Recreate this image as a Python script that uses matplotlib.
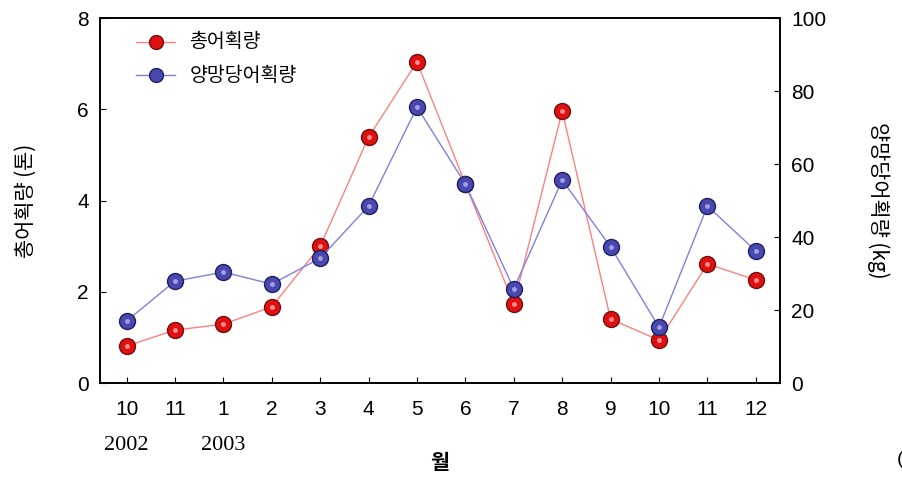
import numpy as np
import matplotlib.pyplot as plt

plt.rcParams['font.family'] = ['Liberation Sans', 'Noto Sans CJK KR', 'DejaVu Sans']

months = ['10', '11', '1', '2', '3', '4', '5', '6', '7', '8', '9', '10', '11', '12']
total_catch = [0.81, 1.16, 1.29, 1.67, 3.0, 5.39, 7.04, 4.36, 1.73, 5.96, 1.40, 0.94, 2.61, 2.26]
cpue = [17.0, 27.9, 30.4, 27.1, 34.2, 48.5, 75.6, 54.5, 25.8, 55.6, 37.3, 15.3, 48.5, 36.2]
years = ['2002', '2003']
year_pos = [0, 2]

x = np.arange(len(months))

fig = plt.figure(figsize=(9.03, 4.78), dpi=100)
ax = fig.add_axes([0.1107, 0.1987, 0.7531, 0.7636])
ax2 = ax.twinx()

ax.plot(x, total_catch, color='#ff8080', lw=1.0, zorder=2)
ax.plot(x, total_catch, ls='none', marker='o', ms=11.5, mfc='#e01010', mec='#701010', mew=1.0, zorder=3)
ax.plot(x, total_catch, ls='none', marker='o', ms=3.5, mfc='#ff9090', mec='none', zorder=4)

ax2.plot(x, cpue, color='#8080e0', lw=1.0, zorder=2)
ax2.plot(x, cpue, ls='none', marker='o', ms=11.5, mfc='#4848b0', mec='#202060', mew=1.0, zorder=3)
ax2.plot(x, cpue, ls='none', marker='o', ms=3.5, mfc='#a0a0e0', mec='none', zorder=4)

ax.set_xlim(-0.55, 13.5)
ax.set_ylim(0, 8)
ax2.set_ylim(0, 100)
ax.set_yticks([0, 2, 4, 6, 8])
ax2.set_yticks([0, 20, 40, 60, 80, 100])
ax.set_xticks(x)
ax.set_xticklabels(months)

ax.tick_params(axis='both', direction='in', labelsize=15, length=4, pad=8)
ax2.tick_params(axis='y', direction='in', labelsize=15, length=4, pad=8)
ax.tick_params(axis='x', pad=12)

for a in (ax, ax2):
    for s in a.spines.values():
        s.set_linewidth(1.2)

for p, yr in zip(year_pos, years):
    ax.text(p, -1.37, yr, ha='center', va='center', fontsize=16, family='Liberation Serif')

ax.set_xlabel('월', fontsize=15, family=['Noto Sans CJK KR'], fontweight='bold', labelpad=24)
ax.set_ylabel('총어획량 (톤)', fontsize=15, family=['Noto Sans CJK KR'], labelpad=29)
ax2.set_ylabel('양망당어획량 (kg)', fontsize=15, family=['Noto Sans CJK KR'], rotation=-90, labelpad=46)

# legend
lx = [0.2, 1.0]
for yv, col, fc, ec, lab in [(7.48, '#ff8080', '#e01010', '#701010', '총어획량'),
                             (6.75, '#8080e0', '#4848b0', '#202060', '양망당어획량')]:
    ax.plot(lx, [yv, yv], color=col, lw=1.0)
    ax.plot(np.mean(lx), yv, marker='o', ms=10, mfc=fc, mec=ec)
    ax.text(1.3, yv, lab, va='center', fontsize=14, family=['Noto Sans CJK KR'])

fig.text(0.993, 0.02, '(', fontsize=14, ha='left', va='bottom')

fig.savefig('out.png', dpi=100)
